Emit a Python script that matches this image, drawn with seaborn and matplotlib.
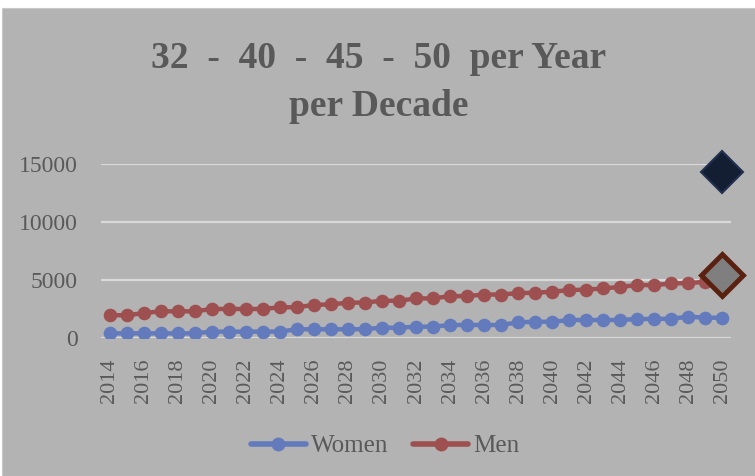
import numpy as np
import pandas as pd
import matplotlib
matplotlib.use("Agg")
import matplotlib.pyplot as plt
import seaborn as sns
from matplotlib.patches import Rectangle

years = list(range(2014, 2051))
women = [400, 400, 400, 400, 400, 400, 550, 550, 550, 550, 560, 750, 750,
         750, 750, 760, 890, 890, 975, 975, 1120, 1120, 1120, 1120, 1350,
         1400, 1400, 1550, 1550, 1550, 1550, 1640, 1640, 1660, 1840, 1750, 1750]
men = [1980, 1950, 2150, 2300, 2300, 2300, 2500, 2500, 2500, 2500, 2650, 2650,
       2850, 2900, 3040, 3060, 3210, 3210, 3410, 3410, 3610, 3610, 3750, 3750,
       3870, 3900, 3990, 4130, 4170, 4270, 4410, 4560, 4560, 4700, 4740, 4840, 5430]
total_year = [2050]
total = [14300]
yticks = [0, 5000, 10000, 15000]
xtick_years = list(range(2014, 2051, 2))

BG = "#b3b3b3"
TXT = "#595959"
BLUE = "#637bbd"
RED = "#9e5050"

sns.set_theme(style="white")
plt.rcParams["font.family"] = ["Liberation Serif", "DejaVu Serif"]

fig = plt.figure(figsize=(7.55, 4.76), dpi=100)
fig.patch.set_facecolor("white")
fig.patches.append(Rectangle((2 / 755, 0), 1, 1 - 8 / 476, transform=fig.transFigure,
                             facecolor=BG, edgecolor="#c8c8c8", lw=0.8, zorder=-10))

ax = fig.add_axes([101 / 755, 1 - 338 / 476, 630 / 755, 174 / 476])
ax.set_zorder(2)
ax.set_facecolor(BG)

df = pd.DataFrame({"year": years, "Women": women, "Men": men})

line_kw = dict(marker="o", markersize=9.8, markeredgewidth=0, linewidth=3.2)
sns.lineplot(data=df, x="year", y="Women", ax=ax, color=BLUE, zorder=3, **line_kw)
sns.lineplot(data=df, x="year", y="Men", ax=ax, color=RED, zorder=4, **line_kw)

# last Men point drawn as a diamond
ax.plot(years[-1:], men[-1:], marker="D", markersize=21, color="#7f7f7f",
        markeredgecolor="#5a2110", markeredgewidth=3.5, linestyle="none",
        zorder=5, clip_on=False)
# total point
ax.plot(total_year, total, marker="D", markersize=21, color="#141e33",
        markeredgecolor="#22304f", markeredgewidth=1.5, linestyle="none",
        zorder=5, clip_on=False)

ax.set_xlim(2013.5, 2050.5)
ax.set_ylim(0, 15000)
ax.set_yticks(yticks)
ax.set_yticklabels([str(v) for v in yticks])
ax.set_xticks(xtick_years)
ax.set_xticklabels([str(y) for y in xtick_years], rotation=90)
ax.tick_params(axis="y", length=0, pad=17, labelsize=17, labelcolor=TXT)
ax.tick_params(axis="x", length=0, pad=15, labelsize=16, labelcolor=TXT)
ax.set_xlabel("")
ax.set_ylabel("")
ax.grid(axis="y", color="#d9d9d9", linewidth=1.6)
ax.grid(axis="x", visible=False)
ax.set_axisbelow(True)
for s in ax.spines.values():
    s.set_visible(False)

fig.text(0.502, 1 - 58 / 476, "32  -  40  -  45  -  50  per Year", ha="center",
         va="center", fontsize=27, fontweight="bold", color=TXT)
fig.text(0.502, 1 - 106 / 476, "per Decade", ha="center", va="center",
         fontsize=27, fontweight="bold", color=TXT)

handles = [plt.Line2D([], [], color=BLUE, lw=4, marker="o", markersize=9),
           plt.Line2D([], [], color=RED, lw=4, marker="o", markersize=9)]
fig.legend(handles, ["Women", "Men"], loc="center", bbox_to_anchor=(0.51, 1 - 446 / 476),
           ncol=2, frameon=False, fontsize=18, handlelength=2.2, handletextpad=0.2,
           columnspacing=1.0, labelcolor=TXT)

fig.savefig("out.png", dpi=100, facecolor=fig.get_facecolor())
